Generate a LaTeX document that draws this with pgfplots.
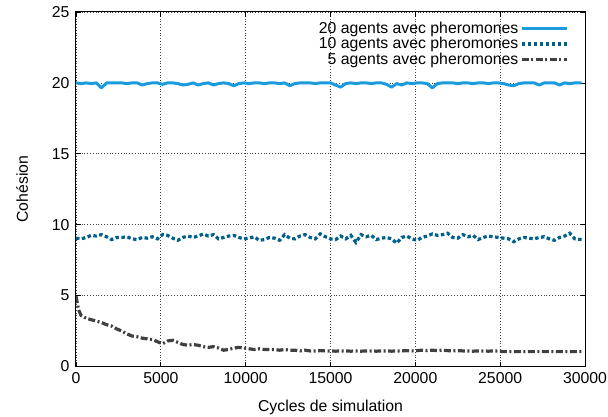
\documentclass[border=0pt]{standalone}
\usepackage{fontspec}
\setmainfont{Liberation Sans}
\usepackage{pgfplots}
\pgfplotsset{compat=1.18}
\definecolor{cA}{RGB}{25,155,222}
\definecolor{cB}{RGB}{0,96,138}
\definecolor{cC}{RGB}{64,64,64}
\begin{document}
\begin{tikzpicture}[font=\fontsize{15.8}{18}\selectfont]
\useasboundingbox (-76pt,-49.5pt) rectangle (532pt,366.5pt);
\begin{axis}[
  at={(0pt,0pt)}, anchor=south west,
  scale only axis, width=509pt, height=354.5pt,
  xmin=0, xmax=30000, ymin=0, ymax=25,
  xtick={0,5000,...,30000}, ytick={0,5,...,25},
  scaled x ticks=false,
  /pgf/number format/1000 sep={},
  /pgf/number format/assume math mode=true,
  tick align=inside, major tick length=5pt,
  tick style={black, line width=0.8pt},
  axis line style={line width=1pt},
  grid=major,
  major grid style={black!75, line width=0.7pt, dash pattern=on 0.8pt off 2pt},
  xticklabel style={yshift=-2pt},
  yticklabel style={xshift=-3pt},
  xlabel={Cycles de simulation},
  ylabel={Cohésion},
  xlabel style={at={(axis description cs:0.5,-0.114)}, anchor=center},
  ylabel style={at={(axis description cs:-0.106,0.5)}, anchor=center},
  legend style={at={(axis description cs:0.968,0.978)}, anchor=north east,
    draw=none, fill=none, inner sep=0pt, row sep=-1.5pt,
    nodes={inner sep=2pt}},
  legend cell align=right,
  legend plot pos=right,
  legend image code/.code={\draw[#1] (0pt,0pt) -- (45pt,0pt);},
]
\addplot[cA, line width=3pt, line join=round] coordinates {
(0,20.0) (300,19.95) (600,20.0) (900,19.95) (1200,20.0) (1500,19.65) (1800,20.0) (2100,20.0) (2400,20.0) (2700,20.0)
(3000,19.95) (3300,20.0) (3600,20.0) (3900,19.85) (4200,19.95) (4500,20.0) (4800,20.0) (5100,19.9) (5400,20.0) (5700,20.0)
(6000,19.95) (6300,19.85) (6600,19.9) (6900,20.0) (7200,19.85) (7500,19.95) (7800,20.0) (8100,19.85) (8400,19.95) (8700,20.0)
(9000,19.95) (9300,19.8) (9600,19.95) (9900,20.0) (10200,19.95) (10500,20.0) (10800,20.0) (11100,19.95) (11400,20.0) (11700,20.0)
(12000,19.95) (12300,20.0) (12600,19.8) (12900,19.95) (13200,20.0) (13500,20.0) (13800,20.0) (14100,19.95) (14400,20.0) (14700,20.0)
(15000,20.0) (15300,19.85) (15600,19.7) (15900,19.95) (16200,20.0) (16500,19.95) (16800,20.0) (17100,20.0) (17400,19.95) (17700,20.0)
(18000,20.0) (18300,19.9) (18600,19.7) (18900,19.95) (19200,19.85) (19500,20.0) (19800,19.95) (20100,20.0) (20400,20.0) (20700,19.95)
(21000,19.65) (21300,19.95) (21600,20.0) (21900,20.0) (22200,20.0) (22500,19.95) (22800,20.0) (23100,20.0) (23400,19.95) (23700,20.0)
(24000,20.0) (24300,19.95) (24600,20.0) (24900,20.0) (25200,19.95) (25500,19.85) (25800,19.8) (26100,19.95) (26400,20.0) (26700,20.0)
(27000,20.0) (27300,19.85) (27600,20.0) (27900,20.0) (28200,20.0) (28500,19.85) (28800,20.0) (29100,19.95) (29400,20.0) (29800,20.0)
};
\addlegendentry{20 agents avec pheromones}
\addplot[cB, line width=3.2pt, dash pattern=on 3.5pt off 2.5pt] coordinates {
(0,9.05) (300,9.0) (600,9.1) (900,9.25) (1200,9.2) (1500,9.3) (1800,9.15) (2100,8.95) (2400,9.1) (2700,9.1)
(3000,9.15) (3300,9.0) (3600,8.95) (3900,9.1) (4200,9.05) (4500,9.15) (4800,9.0) (5100,9.3) (5400,9.25) (5700,9.05)
(6000,8.9) (6300,9.1) (6600,9.2) (6900,9.1) (7200,9.2) (7500,9.35) (7800,9.2) (8100,9.3) (8400,9.0) (8700,9.1)
(9000,9.2) (9300,9.25) (9600,9.1) (9900,9.0) (10200,9.05) (10500,9.15) (10800,8.9) (11100,8.95) (11400,9.1) (11700,9.05)
(12000,8.9) (12300,9.3) (12600,9.05) (12900,9.0) (13200,9.2) (13500,9.3) (13800,9.1) (14100,9.0) (14400,9.35) (14700,9.15)
(15000,9.0) (15300,8.95) (15600,9.2) (15900,9.0) (16200,9.25) (16500,8.75) (16800,9.3) (17100,9.15) (17400,9.25) (17700,8.95)
(18000,9.05) (18300,9.1) (18600,9.0) (18900,8.7) (19200,9.1) (19500,9.2) (19800,9.0) (20100,8.9) (20400,9.1) (20700,9.2)
(21000,9.35) (21300,9.25) (21600,9.3) (21900,9.4) (22200,9.1) (22500,9.05) (22800,9.3) (23100,9.15) (23400,9.25) (23700,8.95)
(24000,9.1) (24300,9.2) (24600,9.15) (24900,9.1) (25200,9.05) (25500,9.0) (25800,8.8) (26100,9.0) (26400,9.1) (26700,9.05)
(27000,9.0) (27300,9.1) (27600,9.15) (27900,9.0) (28200,8.9) (28500,9.1) (28800,9.2) (29100,9.4) (29400,9.0) (29800,8.95)
};
\addlegendentry{10 agents avec pheromones}
\addplot[cC, line width=3.2pt, dash pattern=on 7pt off 2.5pt on 2pt off 2.5pt] coordinates {
(0,4.95) (150,4.0) (300,3.6) (600,3.4) (900,3.3) (1200,3.2) (1500,3.1) (1800,2.95) (2100,2.85) (2400,2.65) (2700,2.5)
(3000,2.3) (3300,2.15) (3600,2.1) (3900,2.0) (4200,1.95) (4500,1.9) (4800,1.75) (5100,1.6) (5400,1.8) (5700,1.85)
(6000,1.7) (6300,1.55) (6600,1.5) (6900,1.55) (7200,1.5) (7500,1.4) (7800,1.35) (8100,1.4) (8400,1.3) (8700,1.15)
(9000,1.2) (9300,1.3) (9600,1.35) (9900,1.3) (10200,1.25) (10500,1.2) (10800,1.25) (11100,1.2) (11400,1.2) (11700,1.2)
(12000,1.15) (12300,1.2) (12600,1.15) (12900,1.15) (13200,1.1) (13500,1.15) (13800,1.1) (14100,1.1) (14400,1.12) (14700,1.1)
(15000,1.1) (15300,1.08) (15600,1.1) (15900,1.1) (16200,1.08) (16500,1.1) (16800,1.08) (17100,1.1) (17400,1.1) (17700,1.08)
(18000,1.1) (18300,1.1) (18600,1.08) (18900,1.1) (19200,1.1) (19500,1.12) (19800,1.1) (20100,1.12) (20400,1.15) (20700,1.12)
(21000,1.15) (21300,1.12) (21600,1.15) (21900,1.12) (22200,1.1) (22500,1.12) (22800,1.1) (23100,1.1) (23400,1.08) (23700,1.1)
(24000,1.1) (24300,1.08) (24600,1.1) (24900,1.08) (25200,1.05) (25500,1.05) (25800,1.05) (26100,1.05) (26400,1.05) (26700,1.05)
(27000,1.05) (27300,1.05) (27600,1.05) (27900,1.05) (28200,1.05) (28500,1.05) (28800,1.05) (29100,1.05) (29400,1.05) (29800,1.05)
};
\addlegendentry{5 agents avec pheromones}
\end{axis}
\end{tikzpicture}
\end{document}
